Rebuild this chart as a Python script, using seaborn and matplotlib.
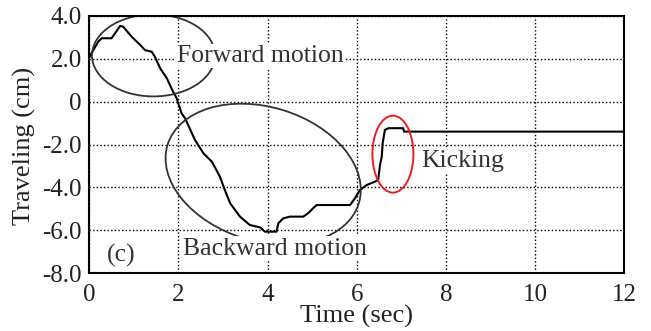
import numpy as np
import pandas as pd
import matplotlib
matplotlib.use("Agg")
import matplotlib.pyplot as plt
import seaborn as sns
from matplotlib.patches import Ellipse
from matplotlib.transforms import ScaledTranslation

# ---- data ----
time_sec = [0.0, 0.05, 0.20, 0.28, 0.50, 0.69, 0.76, 0.95, 1.14, 1.25, 1.40, 1.47,
            1.59, 1.74, 1.86, 1.96, 2.07, 2.15, 2.37, 2.56, 2.75, 2.93, 3.04, 3.16,
            3.38, 3.60, 3.83, 3.94, 4.20, 4.24, 4.35, 4.50, 4.80, 4.91, 5.02, 5.10,
            5.85, 5.96, 6.07, 6.22, 6.41, 6.48, 6.52, 6.56, 6.58, 6.63, 6.71, 7.04,
            7.06, 12.0]
traveling_cm = [2.05, 2.25, 2.79, 2.95, 2.95, 3.52, 3.49, 3.02, 2.64, 2.40, 2.32, 2.09,
                1.55, 1.08, 0.54, 0.15, -0.55, -0.78, -1.79, -2.41, -2.80, -3.50, -4.12, -4.74,
                -5.36, -5.75, -5.86, -6.06, -6.06, -5.67, -5.44, -5.36, -5.36, -5.20, -4.97, -4.82,
                -4.82, -4.50, -4.12, -3.89, -3.73, -3.65, -2.95, -2.57, -1.94, -1.32, -1.24, -1.24,
                -1.40, -1.40]

x_ticks = [0, 2, 4, 6, 8, 10, 12]
x_tick_labels = ["0", "2", "4", "6", "8", "10", "12"]
y_ticks = [4, 2, 0, -2, -4, -6, -8]
y_tick_labels = ["4.0", "2.0", "0", "-2.0", "-4.0", "-6.0", "-8.0"]

df = pd.DataFrame({"Time (sec)": time_sec, "Traveling (cm)": traveling_cm})

sns.set_theme(style="white")
plt.rcParams["font.family"] = ["Liberation Serif", "DejaVu Serif"]

fig = plt.figure(figsize=(6.51, 3.31), dpi=100)
ax = fig.add_axes([89.3 / 651, 1 - 273.3 / 331, (624.3 - 89.3) / 651, (273.3 - 15.7) / 331])

sns.lineplot(data=df, x="Time (sec)", y="Traveling (cm)", ax=ax, color="black",
             linewidth=1.5, estimator=None, sort=False)

ax.set_xlim(0, 12)
ax.set_ylim(-8, 4)
ax.set_xticks(x_ticks)
ax.set_xticklabels(x_tick_labels)
ax.set_yticks(y_ticks)
ax.set_yticklabels(y_tick_labels)
ax.tick_params(axis="both", length=0, labelsize=18, colors="#222222")
ax.tick_params(axis="x", pad=7.5)
ax.tick_params(axis="y", pad=5.5)
ax.grid(True, color="black", linestyle=(0, (1, 1.6)), linewidth=1.0)
ax.set_axisbelow(True)
for s in ax.spines.values():
    s.set_color("black")
    s.set_linewidth(1.5)

ax.set_xlabel("Time (sec)", fontsize=19, color="#222222")
ax.set_ylabel("Traveling (cm)", fontsize=19, color="#222222")
ax.xaxis.set_label_coords(0.5, (273.3 - 316) / 257.6)
ax.xaxis.label.set_verticalalignment("center")
ax.yaxis.set_label_coords((24 - 89.3) / 535, 0.494)
ax.yaxis.label.set_verticalalignment("center")
ax.yaxis.label.set_horizontalalignment("center")

# ---- annotation ellipses (centre in data units, size in inches) ----
def add_ellipse(cx, cy, w_in, h_in, angle, color, lw):
    tr = fig.dpi_scale_trans + ScaledTranslation(cx, cy, ax.transData)
    e = Ellipse((0, 0), w_in, h_in, angle=angle, fill=False, edgecolor=color,
                linewidth=lw, transform=tr, zorder=2.5)
    ax.add_patch(e)

add_ellipse(1.44, 2.15, 1.23, 0.82, 0, "#333333", 1.3)
add_ellipse(3.90, -3.38, 2.00, 1.34, -17, "#333333", 1.3)
add_ellipse(6.81, -2.45, 0.41, 0.77, 0, "#ee1c24", 1.4)

box = dict(facecolor="white", edgecolor="none", pad=1.0)
ax.text(1.97, 2.12, "Forward motion", fontsize=18.5, color="#333333",
        ha="left", va="center", bbox=box, zorder=3)
ax.text(2.11, -6.85, "Backward motion", fontsize=18.5, color="#333333",
        ha="left", va="center", bbox=box, zorder=3)
ax.text(7.45, -2.78, "Kicking", fontsize=18.5, color="#333333",
        ha="left", va="center", bbox=box, zorder=3)
ax.text(0.72, -7.19, "(c)", fontsize=18.5, color="#333333",
        ha="center", va="center", zorder=3)

fig.savefig("out.png", dpi=100)
